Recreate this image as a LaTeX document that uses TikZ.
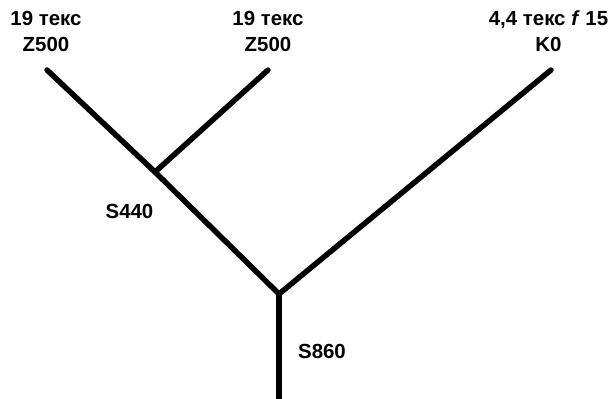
\documentclass[tikz,border=0pt]{standalone}
\usepackage{fontspec}
\setmainfont{Liberation Sans}
\usepackage{tikz}
\usetikzlibrary{positioning}

\begin{document}
\begin{tikzpicture}[x=1bp,y=1bp,
        yarn/.style={line width=5.5bp, line cap=round, line join=round},
        lbl/.style={font=\bfseries\fontsize{20.5}{26}\selectfont, align=center, inner sep=0pt}]
        \useasboundingbox (0,0) rectangle (612,398);
        % yarn ends and joins
        \coordinate (left) at (47,328);
        \coordinate (mid) at (268,328);
        \coordinate (right) at (551,328);
        \coordinate (j440) at (155,226);
        \coordinate (j860) at (279,104);
        \coordinate (out) at (279,-4);
        % labels
        \node[lbl] (lleft) at (46,366.5) {19 текс\\Z500};
        \node[lbl] (lmid) at (268,366.5) {19 текс\\Z500};
        \node[lbl] (lright) at (548.5,366.5) {4,4 текс \textit{f} 15\\K0};
        \node[lbl] (s440) at (129.5,187) {S440};
        \node[lbl] (s860) at (322,47) {S860};
        % plies
        \draw[yarn] (left) -- (j440) -- (j860);
        \draw[yarn] (mid) -- (j440);
        \draw[yarn] (right) -- (j860);
        \draw[yarn, line cap=butt] (j860) -- (out);
      \end{tikzpicture}
\end{document}
